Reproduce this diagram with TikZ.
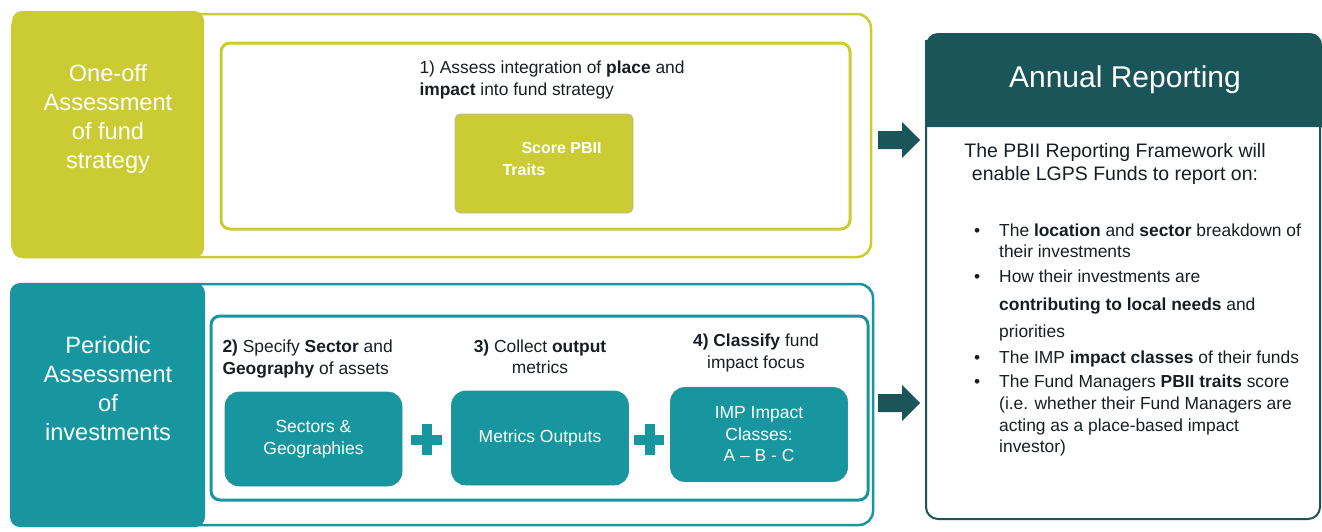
\documentclass[tikz,border=0pt]{standalone}
\usepackage{fontspec}
\setmainfont{Liberation Sans}
\usetikzlibrary{positioning}
\definecolor{ygreen}{RGB}{203,204,52}
\definecolor{tealc}{RGB}{24,150,160}
\definecolor{darkteal}{RGB}{26,85,89}
\definecolor{txt}{RGB}{22,30,36}
\tikzset{
  outerbox/.style={draw=#1, line width=2.5pt, rounded corners=14pt},
  innerbox/.style={draw=#1, line width=3pt, rounded corners=9pt},
  panel/.style={fill=#1, rounded corners=10pt},
  paneltext/.style={text=white, align=center, font=\fontsize{23.6}{29}\selectfont},
  steptext/.style={text=txt, font=\fontsize{17.4}{21.5}\selectfont},
  tealbox/.style={fill=tealc, draw=tealc!80!gray, line width=0.6pt, rounded corners=14pt, minimum width=177pt, minimum height=94pt, text=white, align=center, font=\fontsize{17.5}{21.5}\selectfont},
  plussign/.style={fill=tealc},
  blockarrow/.style={fill=darkteal},
}
\begin{document}
\begin{tikzpicture}[x=1pt,y=-1pt]
\useasboundingbox (0,0) rectangle (1322,531);
% ---------- top section ----------
\draw[outerbox=ygreen] (12,14) rectangle (871,257);
\fill[panel=ygreen] (12,11) rectangle (204,258);
\node[paneltext] (oneoff) at (108,119) {One-off\\Assessment\\of fund\\strategy};
\draw[innerbox=ygreen] (221,43) rectangle (850,229);
\node[steptext, anchor=west, align=left] (step1) at (416,80) {1) Assess integration of \textbf{place} and\\\textbf{impact} into fund strategy};
\node[fill=ygreen, draw=gray!60, line width=0.6pt, rounded corners=5pt, minimum width=178pt, minimum height=99pt] (score) at (544,163.5) {};
\node[text=white, align=left, anchor=west, font=\bfseries\fontsize{16}{22}\selectfont] (scoretxt) at (499,159) {\hspace{19pt}Score PBII\\Traits};
% ---------- bottom section ----------
\draw[outerbox=tealc] (12,284) rectangle (873,525);
\fill[panel=tealc] (10,283) rectangle (205,527);
\node[paneltext] (periodic) at (108,389) {Periodic\\Assessment\\of\\investments};
\draw[innerbox=tealc] (211,316) rectangle (868,500);
\node[steptext, anchor=west, align=left] (step2) at (219,359) {\textbf{2)} Specify \textbf{Sector} and\\\textbf{Geography} of assets};
\node[steptext, align=center] (step3) at (540,357) {\textbf{3)} Collect \textbf{output}\\metrics};
\node[steptext, align=center] (step4) at (756,353) {\textbf{4) Classify} fund\\impact focus};
\node[tealbox] (sectors) at (313.5,439) {Sectors \&\\Geographies};
\node[tealbox] (metrics) at (540,438) {Metrics Outputs};
\node[tealbox] (imp) at (759,434.5) {IMP Impact\\Classes:\\A -- B - C};
% plus signs
\fill[plussign] (422,424) rectangle (432,455);
\fill[plussign] (411,434.5) rectangle (442,444.5);
\fill[plussign] (644.5,424) rectangle (654.5,455);
\fill[plussign] (634,434.5) rectangle (664,444.5);
% block arrows
\fill[blockarrow] (878,131) -- (902,131) -- (902,122) -- (920,140) -- (902,158) -- (902,149) -- (878,149) -- cycle;
\fill[blockarrow] (878,394) -- (902,394) -- (902,385) -- (920,403) -- (902,421) -- (902,412) -- (878,412) -- cycle;
% ---------- right panel ----------
\fill[darkteal] (926,127) [rounded corners=12pt]-- (926,33) -- (1322,33) [sharp corners]-- (1322,127) -- cycle;
\draw[darkteal, line width=2pt, rounded corners=12pt] (926,40) -- (926,519) -- (1320,519) -- (1320,40);
\node[text=white, font=\fontsize{30}{34}\selectfont] (annual) at (1125,80) {Annual Reporting};
\node[text=txt, align=center, font=\fontsize{19.5}{23}\selectfont] (intro) at (1115,164) {The PBII Reporting Framework will\\enable LGPS Funds to report on:};
\node[text=txt, anchor=north west, inner sep=0pt, font=\fontsize{17.4}{21.3}\selectfont] (bullets) at (974,221) {%
\begin{tabular}{@{}p{25pt}@{}l@{}}
\textbullet & The \textbf{location} and \textbf{sector} breakdown of\\
 & their investments\\[4pt]
\textbullet & How their investments are\\[6pt]
 & \textbf{contributing to local needs} and\\[6pt]
 & priorities\\[5pt]
\textbullet & The IMP \textbf{impact classes} of their funds\\[3pt]
\textbullet & The Fund Managers \textbf{PBII traits} score\\
 & (i.e. whether their Fund Managers are\\[1pt]
 & acting as a place-based impact\\
 & investor)
\end{tabular}};
\end{tikzpicture}
\end{document}
